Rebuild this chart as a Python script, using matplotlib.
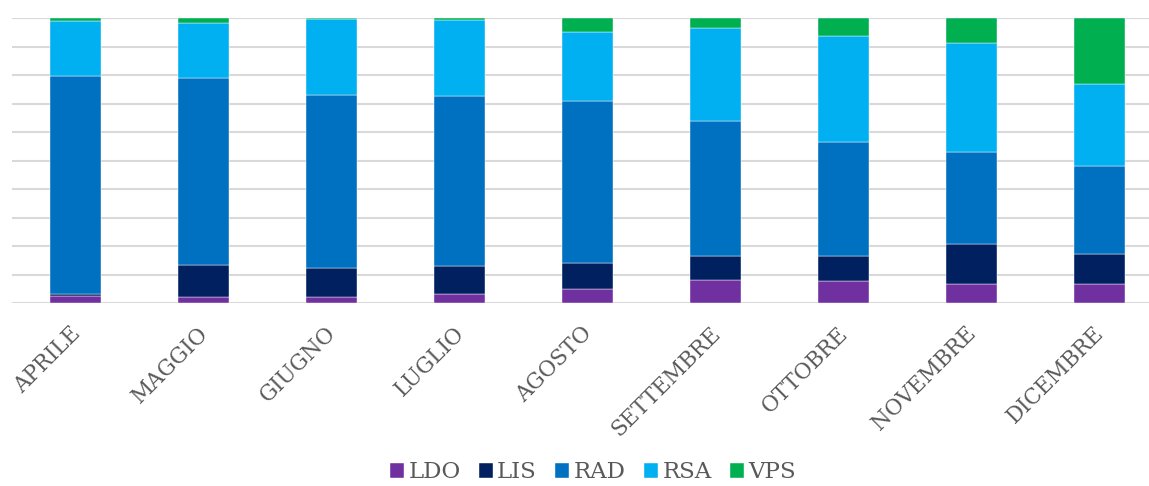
import matplotlib.pyplot as plt
import numpy as np

months = ['APRILE', 'MAGGIO', 'GIUGNO', 'LUGLIO', 'AGOSTO',
          'SETTEMBRE', 'OTTOBRE', 'NOVEMBRE', 'DICEMBRE']
# percent share per month
ldo = [2.5, 2.1, 2.1, 3.2, 4.9, 8.0, 7.6, 6.6, 6.7]
lis = [0.7, 11.1, 10.2, 9.9, 9.2, 8.4, 9.0, 14.1, 10.4]
rad = [76.4, 65.9, 60.8, 59.4, 56.9, 47.6, 40.0, 32.2, 31.1]
rsa = [19.3, 19.1, 26.5, 26.9, 24.1, 32.4, 37.2, 38.3, 28.5]
vps = [1.1, 1.8, 0.4, 0.6, 4.9, 3.6, 6.2, 8.8, 23.3]

series = [('LDO', ldo, '#7030A0'), ('LIS', lis, '#002060'),
          ('RAD', rad, '#0070C0'), ('RSA', rsa, '#00B0F0'),
          ('VPS', vps, '#00B050')]

fig = plt.figure(figsize=(11.49, 4.86), dpi=100)
ax = fig.add_axes([11.5/1149, 183/486, 1152/1149, 285/486])

x = np.arange(len(months))
bottom = np.zeros(len(months))
for name, vals, col in series:
    ax.bar(x, vals, width=0.4, bottom=bottom, color=col, label=name,
           edgecolor='white', linewidth=0.3, zorder=3)
    bottom += np.array(vals)

ax.set_xlim(-0.5, len(months) - 0.5)
ax.set_ylim(0, 100)
ax.set_yticks(np.arange(0, 101, 10))
ax.set_yticklabels([])
ax.tick_params(axis='y', length=0)
ax.tick_params(axis='x', length=0, pad=14)
ax.grid(axis='y', color='#D9D9D9', linewidth=1.5, zorder=0)
for s in ax.spines.values():
    s.set_visible(False)

ax.set_xticks(x - 0.05)
ax.set_xticklabels(months, rotation=45, ha='right', rotation_mode='anchor',
                   fontsize=15.5, color='#595959', family='DejaVu Serif')

fig.legend(loc='center', bbox_to_anchor=(0.516, 0.028), ncol=5,
           frameon=False, handlelength=0.6, handleheight=0.6,
           handletextpad=0.2, columnspacing=0.8, borderpad=0.1,
           prop={'family': 'DejaVu Serif', 'size': 16.5}, labelcolor='#595959')

fig.savefig('out.png', dpi=100)
